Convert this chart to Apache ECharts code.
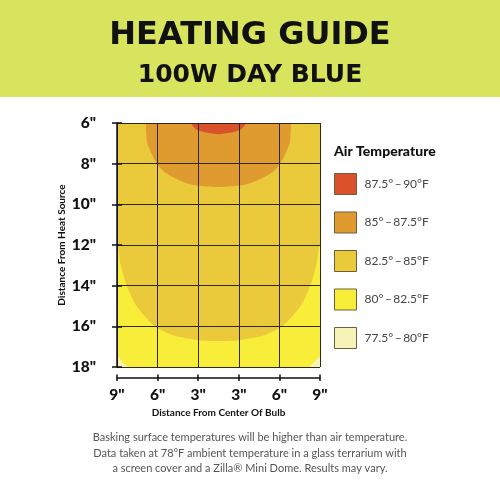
<!DOCTYPE html>
<html><head><meta charset="utf-8">
<script src="https://cdn.jsdelivr.net/npm/echarts@6/dist/echarts.min.js"></script>
<style>html,body{margin:0;padding:0;background:#fff}#c{width:500px;height:500px}</style>
</head><body><div id="c"></div>
<script>
// Axis tick labels
const xTickLabels = ['9"', '6"', '3"', '3"', '6"', '9"'];
const yTicks = [6, 8, 10, 12, 14, 16, 18];
// Temperature bands (legend order)
const bandNames = ['87.5°\u2009–\u200990°F', '85°\u2009–\u200987.5°F', '82.5°\u2009–\u200985°F', '80°\u2009–\u200982.5°F', '77.5°\u2009–\u200980°F'];
const bandColors = ['#D9522C', '#DF9A30', '#EACA3A', '#F8EE3A', '#F6F3B8'];
// Band outlines: [column position 0..5, distance in inches]
const band80to82 = [[0, 6], [5, 6], [5, 18], [0, 18]];
const band77to80Left = [[-0.3, 17.2], [0, 17.45], [0.12, 17.73], [0.25, 18], [0.3, 18.3], [-0.3, 18.3]];
const band77to80Right = [[5.3, 17.2], [5, 17.5], [4.86, 17.76], [4.75, 18], [4.7, 18.3], [5.3, 18.3]];
const band82to85 = [[-0.3, 5.5], [5.3, 5.5], [5.3, 11.5], [5.0, 12], [4.92, 12.9], [4.76, 14], [4.52, 15], [4.07, 16], [3.6, 16.45], [3.0, 16.68], [2.5, 16.72], [2.0, 16.68], [1.4, 16.45], [0.93, 16], [0.48, 15], [0.24, 14], [0.08, 12.9], [0, 12], [-0.3, 11.5]];
const band85to87 = [[0.7, 5.5], [0.71, 6], [0.75, 7], [0.98, 8], [1.23, 8.5], [1.78, 9.0], [2.5, 9.15], [3.22, 9.0], [3.77, 8.5], [4.02, 8], [4.25, 7], [4.29, 6], [4.3, 5.5]];
const band87to90 = [[1.8, 5.6], [1.82, 6], [1.98, 6.35], [2.5, 6.55], [3.02, 6.35], [3.18, 6], [3.2, 5.6]];

const chart = echarts.init(document.getElementById('c'), null, {renderer: 'canvas'});
const FONT = 'Lato';
const HEAD = '"DejaVu Sans"';

function polySeries(name, color, pts, z) {
  return {
    type: 'custom', name: name, coordinateSystem: 'cartesian2d', clip: true, z: z,
    itemStyle: {color: color},
    data: pts.map(p => p.slice()),
    renderItem: function (params, api) {
      if (params.dataIndex !== 0) return null;
      const points = pts.map(p => api.coord(p));
      return {type: 'polygon', shape: {points: points, smooth: 0.25}, style: {fill: color, stroke: null}};
    },
    silent: true, animation: false
  };
}

const series = [
  polySeries(bandNames[3], bandColors[3], band80to82, 1),
  polySeries(bandNames[4], bandColors[4], band77to80Left, 2),
  polySeries(bandNames[4], bandColors[4], band77to80Right, 2),
  polySeries(bandNames[2], bandColors[2], band82to85, 3),
  polySeries(bandNames[1], bandColors[1], band85to87, 4),
  polySeries(bandNames[0], bandColors[0], band87to90, 5)
];

const axisLabelStyle = {fontFamily: FONT, fontWeight: 900, fontSize: 15.5, color: '#111'};
const nameStyle = {fontFamily: FONT, fontWeight: 700, fontSize: 10, color: '#111'};

chart.setOption({
  animation: false,
  backgroundColor: '#ffffff',
  graphic: [
    {type: 'rect', z: -10, shape: {x: 0, y: 0, width: 500, height: 97}, style: {fill: '#D9E45E'}},
    {type: 'text', x: 250, y: 36, style: {text: 'HEATING GUIDE', font: 'bold 32px ' + HEAD, fill: '#111', textAlign: 'center', textVerticalAlign: 'middle'}},
    {type: 'text', x: 250, y: 75, style: {text: '100W DAY BLUE', font: 'bold 25px ' + HEAD, fill: '#111', textAlign: 'center', textVerticalAlign: 'middle'}},
    {type: 'text', x: 250, y: 430, style: {text: 'Basking surface temperatures will be higher than air temperature.\nData taken at 78°F ambient temperature in a glass terrarium with\na screen cover and a Zilla® Mini Dome. Results may vary.', font: '400 11px ' + FONT, fill: '#555', textAlign: 'center', lineHeight: 15.5}}
  ],
  title: {text: 'Air Temperature', left: 334, top: 144, padding: 0, textStyle: {fontFamily: FONT, fontWeight: 900, fontSize: 14, color: '#111'}},
  legend: {
    orient: 'vertical', left: 334, top: 173, padding: 0, itemWidth: 22, itemHeight: 21, itemGap: 16.5,
    icon: 'rect', data: bandNames, selectedMode: false,
    itemStyle: {borderColor: '#6E5E3C', borderWidth: 1},
    textStyle: {fontFamily: FONT, fontSize: 12, color: '#444', padding: [0, 0, 0, 3]}
  },
  grid: {left: 117, top: 123, width: 203, height: 244, show: false},
  xAxis: [
    {type: 'value', min: 0, max: 5, interval: 1, position: 'bottom', offset: 10.5, z: 10,
     axisLine: {show: true, lineStyle: {color: '#111', width: 1.5}},
     axisTick: {show: true, length: 3.5, lineStyle: {color: '#111', width: 1.5}},
     axisLabel: Object.assign({margin: 9, formatter: v => xTickLabels[Math.round(v)]}, axisLabelStyle),
     splitLine: {show: true, lineStyle: {color: '#2D2A1C', width: 1}},
     name: 'Distance From Center Of Bulb', nameLocation: 'middle', nameGap: 30, nameTextStyle: nameStyle},
    {type: 'value', min: 0, max: 5, interval: 1, position: 'bottom', offset: 10.5, z: 10,
     axisLine: {show: false}, axisTick: {show: true, inside: true, length: 3, lineStyle: {color: '#111', width: 1.5}},
     axisLabel: {show: false}, splitLine: {show: false}}
  ],
  yAxis: [
    {type: 'value', inverse: true, min: 6, max: 18, interval: 2, position: 'left', offset: 12, z: 10,
     axisLine: {show: true, lineStyle: {color: '#111', width: 1.5}},
     axisTick: {show: true, length: 5, lineStyle: {color: '#111', width: 1.5}},
     axisLabel: Object.assign({margin: 9, formatter: v => v + '"'}, axisLabelStyle),
     splitLine: {show: true, lineStyle: {color: '#2D2A1C', width: 1}},
     name: 'Distance From Heat Source', nameLocation: 'middle', nameGap: 38, nameRotate: 90, nameTextStyle: nameStyle},
    {type: 'value', inverse: true, min: 6, max: 18, interval: 2, position: 'left', offset: 12, z: 10,
     axisLine: {show: false}, axisTick: {show: true, inside: true, length: 5, lineStyle: {color: '#111', width: 1.5}},
     axisLabel: {show: false}, splitLine: {show: false}}
  ],
  series: series
});
</script></body></html>
